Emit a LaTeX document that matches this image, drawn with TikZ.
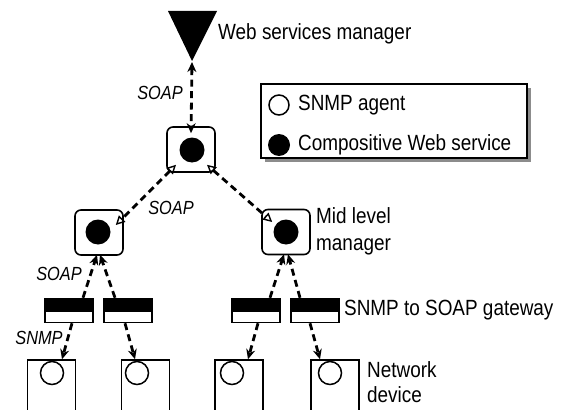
\documentclass[tikz,border=0pt]{standalone}
\usepackage{fontspec}
\setmainfont{Liberation Sans}[FakeStretch=0.86]
\usetikzlibrary{arrows.meta}
\tikzset{
 solidtip/.tip={Stealth[length=10pt,width=9pt]},
 opentip/.tip={Triangle[open,length=9pt,width=9pt,line width=1.4pt]},
}
\begin{document}
\begin{tikzpicture}[x=1pt,y=-1pt,
 box/.style={draw,line width=1.6pt,rounded corners=6pt,minimum width=48pt,minimum height=45pt,inner sep=0},
 ws/.style={circle,fill=black,minimum size=25pt,inner sep=0},
 agent/.style={circle,draw,line width=1.5pt,minimum size=23pt,inner sep=0},
 gw/.style={draw,line width=1.5pt,minimum width=48pt,minimum height=24pt,inner sep=0,
   path picture={\fill (path picture bounding box.north west) rectangle ([yshift=-13pt]path picture bounding box.north east);}},
 dev/.style={draw,line width=1.5pt,minimum width=48pt,minimum height=56pt,inner sep=0},
 link/.style={line width=2.8pt,dash pattern=on 7pt off 4.5pt},
 lbl/.style={font=\fontsize{22}{27}\selectfont,inner sep=0,align=left},
 proto/.style={font=\fontsize{19}{20}\selectfont\itshape,inner sep=0}]
\useasboundingbox (0,0) rectangle (564,409);

% top manager
\fill (168,11) -- (217,11) -- (192,61) -- cycle;
\coordinate (wsm) at (192,62);
\node[lbl,anchor=west] (wsl) at (218,34) {Web services manager};

% legend
\fill[black!45] (265,88) rectangle (531,162);
\node[draw,fill=white,line width=1.5pt,minimum width=266pt,minimum height=74pt,inner sep=0] (leg) at (394,121) {};
\node[agent,minimum size=20pt] (la) at (279,105) {};
\node[ws,minimum size=22pt] (lw) at (279,145) {};
\node[lbl,anchor=west] (lat) at (298,105) {SNMP agent};
\node[lbl,anchor=west] (lwt) at (298,145) {Compositive Web service};

% mid-level boxes
\node[box] (tb) at (191,149.5) {};
\node[ws] (tc) at (192,150) {};
\node[box] (lb) at (99,232.5) {};
\node[ws] (lc) at (98,232) {};
\node[box] (rb) at (286,232) {};
\node[ws] (rc) at (286,232) {};
\node[lbl,anchor=west] (mlm) at (316,231) {Mid level\\manager};

% gateways
\node[gw] (g1) at (69,310.5) {};
\node[gw] (g2) at (128,310.5) {};
\node[gw] (g3) at (256,310.5) {};
\node[gw] (g4) at (315,310.5) {};
\node[lbl,anchor=west] (gwl) at (344,310) {SNMP to SOAP gateway};

% devices
\node[dev] (d1) at (51.5,388) {};
\node[dev] (d2) at (145.5,388) {};
\node[dev] (d3) at (239,388) {};
\node[dev] (d4) at (335,388) {};
\node[agent] (a1) at (52,373) {};
\node[agent] (a2) at (137,373) {};
\node[agent] (a3) at (232,373) {};
\node[agent] (a4) at (330,373) {};
\node[lbl,anchor=west,font=\fontsize{22}{25}\selectfont] (ndl) at (367,382) {Network\\device};

% connectors
\draw[link,solidtip-solidtip] (wsm) -- ([yshift=-7pt]tb.north);
\draw[link,opentip-opentip] ([xshift=-15pt,yshift=8pt]tb.south) -- ([xshift=-8pt,yshift=7.5pt]lb.east);
\draw[link,opentip-opentip] ([xshift=16pt,yshift=8pt]tb.south) -- ([xshift=11pt,yshift=10pt]rb.west);

\draw[link,-solidtip] ([xshift=14pt]g1.north) -- ([xshift=-2pt,yshift=1pt]lb.south);
\draw[link,-solidtip] ([xshift=-13pt]g2.north) -- ([xshift=1pt,yshift=1pt]lb.south);
\draw[link,-solidtip] ([xshift=14pt]g3.north) -- ([xshift=-2pt,yshift=1pt]rb.south);
\draw[link,-solidtip] ([xshift=-15pt]g4.north) -- ([xshift=2pt,yshift=1pt]rb.south);

\draw[link,-solidtip] ([xshift=3pt]g1.south) -- ([xshift=10.5pt]d1.north);
\draw[link,-solidtip] ([xshift=-3pt]g2.south) -- ([xshift=-10.5pt]d2.north);
\draw[link,-solidtip] ([xshift=2pt]g3.south) -- ([xshift=9pt]d3.north);
\draw[link,-solidtip] ([xshift=-5pt]g4.south) -- ([xshift=-15pt]d4.north);

% protocol labels
\node[proto] (s1) at (160,93) {SOAP};
\node[proto] (s2) at (171,208) {SOAP};
\node[proto] (s3) at (59,274) {SOAP};
\node[proto] (s4) at (39,338) {SNMP};
\end{tikzpicture}
\end{document}
